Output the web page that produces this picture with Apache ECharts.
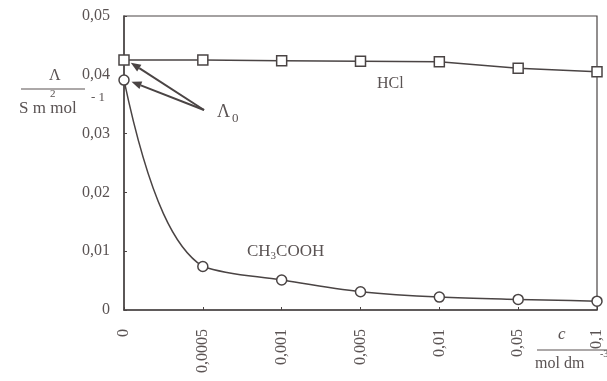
<!DOCTYPE html>
<html><head><meta charset="utf-8">
<script src="https://cdn.jsdelivr.net/npm/echarts@6/dist/echarts.min.js"></script>
<style>html,body{margin:0;padding:0;background:#fff}#c{width:607px;height:381px}</style>
</head><body><div id="c"></div>
<script>
const categories = ['0','0,0005','0,001','0,005','0,01','0,05','0,1'];
const hclValues = [0.0425, 0.0425, 0.0424, 0.0423, 0.0422, 0.0411, 0.0405];
const aceticValues = [0.0391, 0.0074, 0.0051, 0.0031, 0.0022, 0.0018, 0.0015];
const yTicks = [0, 0.01, 0.02, 0.03, 0.04, 0.05];

const ink = '#4a4444';
const txt = '#5a5353';
const font = '"Liberation Serif", "DejaVu Serif", serif';

// smooth hand-drawn style curve through the data points (Hermite, positioned by the chart's own scales)
function curveItem(params, api) {
  if (params.dataIndex !== 0) return null;
  const pts = aceticValues.map((v, i) => api.coord([i, v]));
  const n = pts.length;
  const s = [];
  for (let i = 0; i < n - 1; i++) s.push((pts[i + 1][1] - pts[i][1]) / (pts[i + 1][0] - pts[i][0]));
  const mIn = [], mOut = [];
  for (let i = 0; i < n; i++) {
    let m;
    if (i === 0) m = 2 * s[0];
    else if (i === n - 1) m = s[n - 2];
    else m = s[i - 1] * s[i] > 0 ? Math.sign(s[i]) * Math.sqrt(s[i - 1] * s[i]) : 0;
    mIn.push(m);
    mOut.push(i < n - 1 && Math.abs(m) > 2 * Math.abs(s[i]) ? 2 * s[i] : m);
  }
  let d = 'M' + pts[0][0] + ',' + pts[0][1];
  for (let i = 0; i < n - 1; i++) {
    const h = pts[i + 1][0] - pts[i][0];
    d += ' C' + (pts[i][0] + h / 3) + ',' + (pts[i][1] + mOut[i] * h / 3) + ' ' +
         (pts[i + 1][0] - h / 3) + ',' + (pts[i + 1][1] - mIn[i + 1] * h / 3) + ' ' +
         pts[i + 1][0] + ',' + pts[i + 1][1];
  }
  return { type: 'path', shape: { pathData: d }, style: { stroke: ink, fill: null, lineWidth: 1.5 } };
}

const chart = echarts.init(document.getElementById('c'));
const option = {
  animation: false,
  backgroundColor: '#ffffff',
  grid: { left: 124, right: 10, top: 16, bottom: 71, show: true, borderColor: ink, borderWidth: 1.2 },
  xAxis: {
    type: 'category', data: categories, boundaryGap: false,
    axisLine: { lineStyle: { color: ink, width: 1.5 } },
    axisTick: { show: true, inside: true, length: 3, lineStyle: { color: ink } },
    axisLabel: { rotate: 90, color: txt, fontFamily: font, fontSize: 16, margin: 19 },
    splitLine: { show: false }
  },
  yAxis: {
    type: 'value', min: 0, max: 0.05, interval: 0.01,
    axisLine: { show: true, lineStyle: { color: ink, width: 1.5 } },
    axisTick: { show: true, inside: true, length: 3, lineStyle: { color: ink } },
    axisLabel: { color: txt, fontFamily: font, fontSize: 16, margin: 14,
      formatter: v => { const t = yTicks.find(x => Math.abs(x - v) < 1e-9); return (t === 0 ? '0' : String(+v.toFixed(2))).replace('.', ','); } },
    splitLine: { show: false }
  },
  series: [
    { name: 'HCl', type: 'line', data: hclValues, symbol: 'rect', symbolSize: 10, z: 3,
      lineStyle: { color: ink, width: 1.5 }, itemStyle: { color: '#fff', borderColor: ink, borderWidth: 1.5 } },
    { name: 'CH3COOH curve', type: 'custom', data: aceticValues.map((v, i) => [i, v]), renderItem: curveItem, z: 2, silent: true },
    { name: 'CH3COOH', type: 'line', data: aceticValues, symbol: 'circle', symbolSize: 10, z: 3,
      lineStyle: { opacity: 0 }, itemStyle: { color: '#fff', borderColor: ink, borderWidth: 1.5 } }
  ]
};
chart.setOption(option);

// annotations
const pH = chart.convertToPixel({ seriesIndex: 0 }, [0, hclValues[0]]);
const pA = chart.convertToPixel({ seriesIndex: 2 }, [0, aceticValues[0]]);
const tail = [204, 110];
function arrow(tip) {
  const dx = tip[0] - tail[0], dy = tip[1] - tail[1];
  const L = Math.hypot(dx, dy), ux = dx / L, uy = dy / L;
  const end = [tip[0] - ux * 8, tip[1] - uy * 5];
  const hl = 10, hw = 4;
  const base = [end[0] - ux * hl, end[1] - uy * hl];
  return [
    { type: 'line', shape: { x1: tail[0], y1: tail[1], x2: base[0], y2: base[1] }, style: { stroke: ink, lineWidth: 2 } },
    { type: 'polygon', shape: { points: [end, [base[0] - uy * hw, base[1] + ux * hw], [base[0] + uy * hw, base[1] - ux * hw]] }, style: { fill: ink } }
  ];
}
const graphics = [].concat(arrow(pH), arrow(pA));
graphics.push(
  { type: 'text', left: 217, top: 103, style: { text: '{a|Λ}{s|0}', rich: { a: { fontFamily: font, fontSize: 18, fill: txt }, s: { fontFamily: font, fontSize: 13, fill: txt, verticalAlign: 'bottom', padding: [14, 0, 0, 2] } } } },
  { type: 'text', left: 377, top: 76, style: { text: 'HCl', fontFamily: font, fontSize: 16, fill: txt } },
  { type: 'text', left: 247, top: 243, style: { text: '{a|CH}{s|3}{a|COOH}', rich: { a: { fontFamily: font, fontSize: 17, fill: txt }, s: { fontFamily: font, fontSize: 11, fill: txt, padding: [9, 0, 0, 0] } } } },
  // y axis title
  { type: 'text', left: 49, top: 68, style: { text: 'Λ', fontFamily: font, fontSize: 16, fill: txt } },
  { type: 'line', shape: { x1: 21, y1: 89, x2: 85, y2: 89 }, style: { stroke: txt, lineWidth: 1.2 } },
  { type: 'text', left: 19, top: 100, style: { text: 'S m mol', fontFamily: font, fontSize: 17, fill: txt } },
  { type: 'text', left: 50, top: 89, style: { text: '2', fontFamily: font, fontSize: 11, fill: txt } },
  { type: 'text', left: 91, top: 91, style: { text: '- 1', fontFamily: font, fontSize: 13, fill: txt } },
  // x axis title
  { type: 'text', left: 558, top: 326, style: { text: 'c', fontFamily: font, fontSize: 17, fontStyle: 'italic', fill: txt } },
  { type: 'line', shape: { x1: 537, y1: 350, x2: 607, y2: 350 }, style: { stroke: txt, lineWidth: 1.2 } },
  { type: 'text', left: 535, top: 356, style: { text: 'mol dm', fontFamily: font, fontSize: 16, fill: txt } },
  { type: 'text', left: 600, top: 349, style: { text: '-3', fontFamily: font, fontSize: 10, fill: txt } }
);
chart.setOption({ graphic: graphics });
</script>
</body></html>
